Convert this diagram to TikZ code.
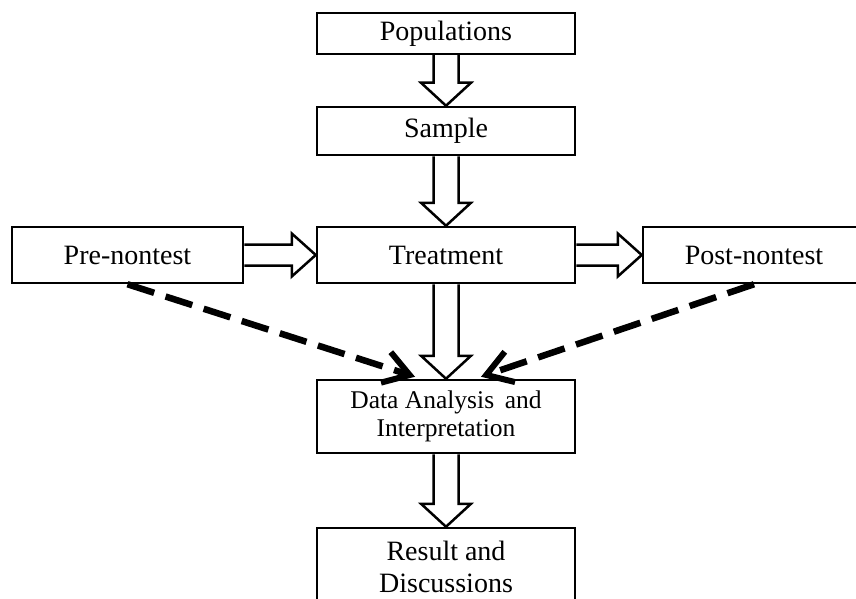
\documentclass[tikz,border=0pt]{standalone}
\usepackage{fontspec}
\setmainfont{Liberation Serif}
\usetikzlibrary{calc,arrows.meta,backgrounds}
\tikzset{
  box/.style={draw, line width=2.5pt, inner sep=0pt, align=center,
    font=\fontsize{28}{32}\selectfont},
  blockarrow/.style={draw, fill=white, line width=2.5pt, line join=miter},
  dasharrow/.style={line width=6.5pt, dash pattern=on 28pt off 12pt,
    -{Straight Barb[length=25pt,width=32pt,line width=6pt]}}
}
\newcommand{\vblk}[2]{%
  \draw[blockarrow] ($(#1.south)+(-12.5,0)$) -- ($(#2.north)+(-12.5,-23)$)
    -- ($(#2.north)+(-25,-23)$) -- (#2.north) -- ($(#2.north)+(25,-23)$)
    -- ($(#2.north)+(12.5,-23)$) -- ($(#1.south)+(12.5,0)$);}
\newcommand{\hblk}[2]{%
  \draw[blockarrow] ($(#1.east)+(0,-10.5)$) -- ($(#2.west)+(-24,-10.5)$)
    -- ($(#2.west)+(-24,-21.5)$) -- (#2.west) -- ($(#2.west)+(-24,21.5)$)
    -- ($(#2.west)+(-24,10.5)$) -- ($(#1.east)+(0,10.5)$);}
\begin{document}
\begin{tikzpicture}[x=1pt,y=-1pt]
\clip (0,0) rectangle (856,599);
\node[box, minimum width=258pt, minimum height=41pt] (pop) at (446,33.5) {Populations};
\node[box, minimum width=258pt, minimum height=48pt] (sam) at (446,131) {Sample};
\node[box, minimum width=258pt, minimum height=56pt] (tre) at (446,255) {Treatment};
\node[box, minimum width=231pt, minimum height=56pt] (pre) at (127.5,255) {Pre-nontest};
\node[box, minimum width=222pt, minimum height=56pt] (post) at (754,255) {Post-nontest};
\node[box, minimum width=258pt, minimum height=73pt,
  font=\fontsize{25.5}{28}\selectfont] (dat) at (446,416.5) {Data Analysis\, and\\Interpretation};
\node[box, minimum width=258pt, minimum height=78pt] (res) at (446,567) {Result and\\Discussions};
\begin{scope}[on background layer]
\vblk{pop}{sam}
\vblk{sam}{tre}
\vblk{tre}{dat}
\vblk{dat}{res}
\hblk{pre}{tre}
\hblk{tre}{post}
\end{scope}
\coordinate (dl) at ($(dat.north)+(-31,-2)$);
\coordinate (dr) at ($(dat.north)+(35,-2)$);
\draw[dasharrow] (pre.south) -- (dl);
\draw[dasharrow] (post.south) -- (dr);
\end{tikzpicture}
\end{document}
